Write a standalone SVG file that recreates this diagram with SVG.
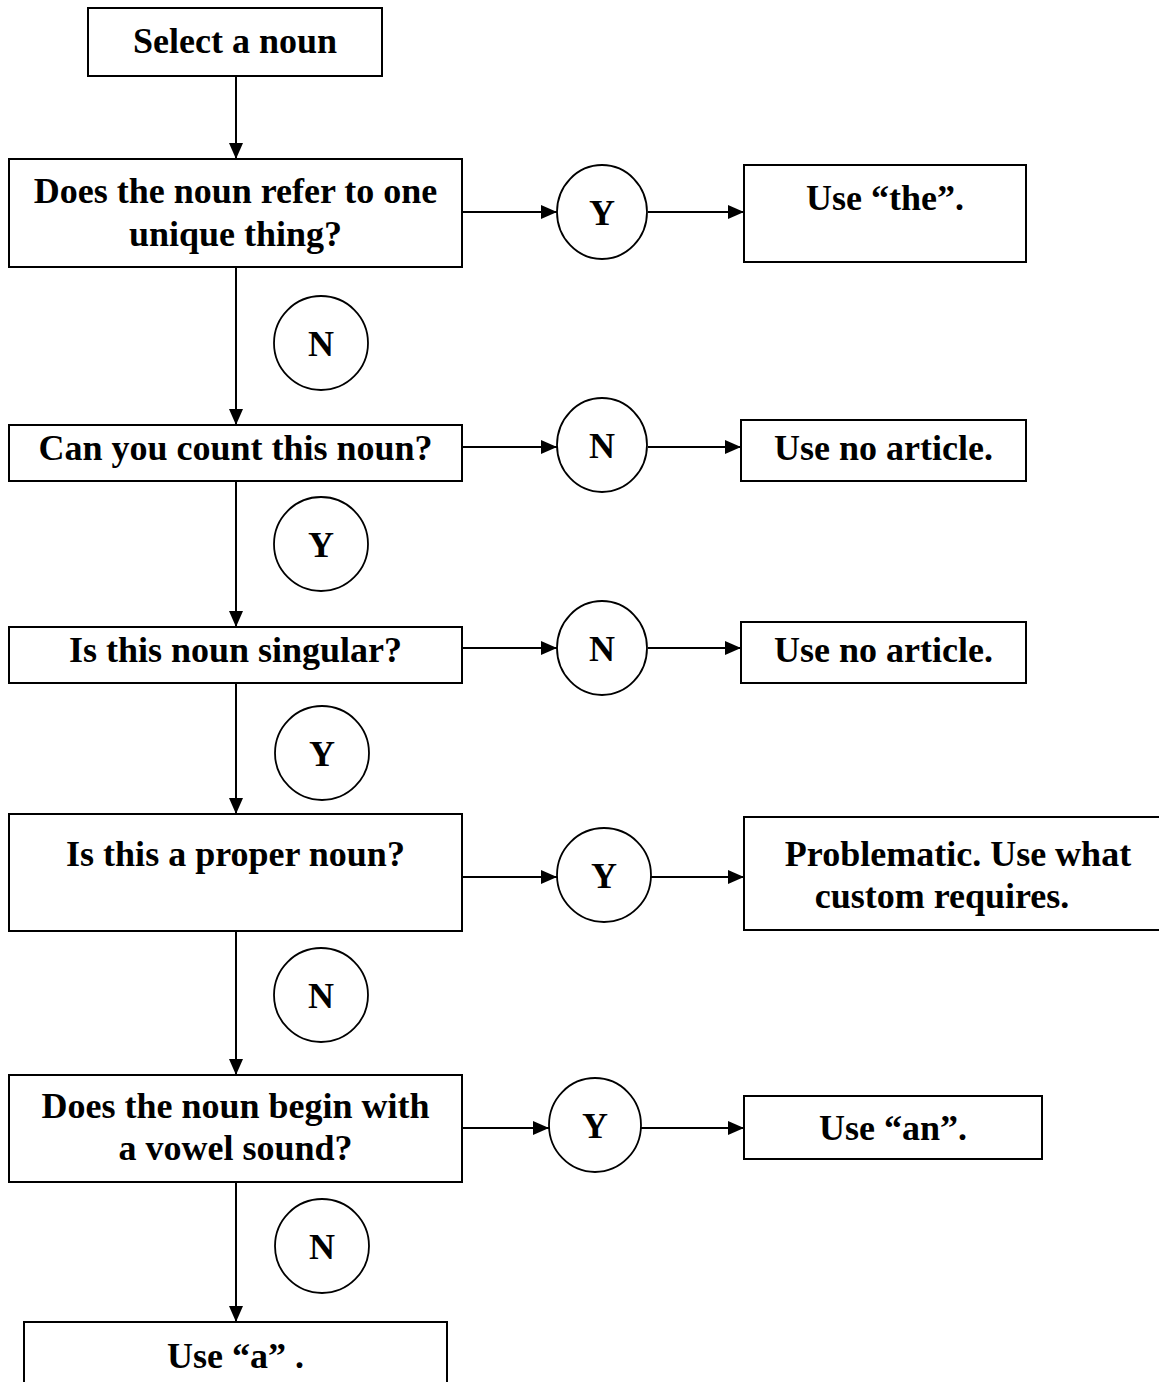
<svg xmlns="http://www.w3.org/2000/svg" width="1159" height="1382" viewBox="0 0 1159 1382">
<defs>
<style>
.box{fill:#fff;stroke:#000;stroke-width:2}
.circ{fill:#fff;stroke:#000;stroke-width:1.8}
.t{font-family:"Liberation Serif","Times New Roman",serif;font-weight:bold;font-size:36px;fill:#000;text-anchor:middle}
.c{stroke:#000;stroke-width:2;fill:none;marker-end:url(#ah)}
</style>
<marker id="ah" markerUnits="userSpaceOnUse" markerWidth="16" markerHeight="16" refX="16" refY="8" orient="auto">
<path d="M0,1 L16,8 L0,15 Z" fill="#000"/>
</marker>
</defs>
<rect width="1159" height="1382" fill="#fff"/>
<g id="connectors">
<line class="c" x1="236" y1="76" x2="236" y2="159"/>
<line class="c" x1="462" y1="212" x2="557" y2="212"/>
<line class="c" x1="648" y1="212" x2="744" y2="212"/>
<line class="c" x1="236" y1="267" x2="236" y2="425"/>
<line class="c" x1="462" y1="447" x2="557" y2="447"/>
<line class="c" x1="648" y1="447" x2="741" y2="447"/>
<line class="c" x1="236" y1="481" x2="236" y2="627"/>
<line class="c" x1="462" y1="648" x2="557" y2="648"/>
<line class="c" x1="648" y1="648" x2="741" y2="648"/>
<line class="c" x1="236" y1="683" x2="236" y2="814"/>
<line class="c" x1="462" y1="877" x2="557" y2="877"/>
<line class="c" x1="651" y1="877" x2="744" y2="877"/>
<line class="c" x1="236" y1="931" x2="236" y2="1075"/>
<line class="c" x1="462" y1="1128" x2="549" y2="1128"/>
<line class="c" x1="641" y1="1128" x2="744" y2="1128"/>
<line class="c" x1="236" y1="1182" x2="236" y2="1322"/>
</g>
<g id="start"><rect class="box" x="88" y="8" width="294" height="68"/><text class="t" x="235" y="53">Select a noun</text></g>
<g id="q1"><rect class="box" x="9" y="159" width="453" height="108"/><text class="t" x="235.5" y="203">Does the noun refer to one</text><text class="t" x="235.5" y="246">unique thing?</text></g>
<g id="c1"><ellipse class="circ" cx="602" cy="212" rx="45" ry="47"/><text class="t" x="602" y="225">Y</text></g>
<g id="r1"><rect class="box" x="744" y="165" width="282" height="97"/><text class="t" x="885" y="210">Use “the”.</text></g>
<g id="c2"><circle class="circ" cx="321" cy="343" r="47"/><text class="t" x="321" y="356">N</text></g>
<g id="q2"><rect class="box" x="9" y="425" width="453" height="56"/><text class="t" x="235.5" y="460">Can you count this noun?</text></g>
<g id="c3"><ellipse class="circ" cx="602" cy="445" rx="45" ry="47"/><text class="t" x="602" y="458">N</text></g>
<g id="r2"><rect class="box" x="741" y="420" width="285" height="61"/><text class="t" x="883.5" y="460">Use no article.</text></g>
<g id="c4"><circle class="circ" cx="321" cy="544" r="47"/><text class="t" x="321" y="557">Y</text></g>
<g id="q3"><rect class="box" x="9" y="627" width="453" height="56"/><text class="t" x="235.5" y="662">Is this noun singular?</text></g>
<g id="c5"><ellipse class="circ" cx="602" cy="648" rx="45" ry="47"/><text class="t" x="602" y="661">N</text></g>
<g id="r3"><rect class="box" x="741" y="622" width="285" height="61"/><text class="t" x="883.5" y="662">Use no article.</text></g>
<g id="c6"><circle class="circ" cx="322" cy="753" r="47"/><text class="t" x="322" y="766">Y</text></g>
<g id="q4"><rect class="box" x="9" y="814" width="453" height="117"/><text class="t" x="235.5" y="866">Is this a proper noun?</text></g>
<g id="c7"><ellipse class="circ" cx="604" cy="875" rx="47" ry="47"/><text class="t" x="604" y="888">Y</text></g>
<g id="r4"><rect class="box" x="744" y="817" width="440" height="113"/><text class="t" x="958" y="866">Problematic. Use what</text><text class="t" x="942" y="908">custom requires.</text></g>
<g id="c8"><circle class="circ" cx="321" cy="995" r="47"/><text class="t" x="321" y="1008">N</text></g>
<g id="q5"><rect class="box" x="9" y="1075" width="453" height="107"/><text class="t" x="235.5" y="1118">Does the noun begin with</text><text class="t" x="235.5" y="1160">a vowel sound?</text></g>
<g id="c9"><ellipse class="circ" cx="595" cy="1125" rx="46" ry="47"/><text class="t" x="595" y="1138">Y</text></g>
<g id="r5"><rect class="box" x="744" y="1096" width="298" height="63"/><text class="t" x="893" y="1140">Use “an”.</text></g>
<g id="c10"><circle class="circ" cx="322" cy="1246" r="47"/><text class="t" x="322" y="1259">N</text></g>
<g id="end"><rect class="box" x="24" y="1322" width="423" height="80"/><text class="t" x="235.5" y="1368">Use “a” .</text></g>
</svg>
